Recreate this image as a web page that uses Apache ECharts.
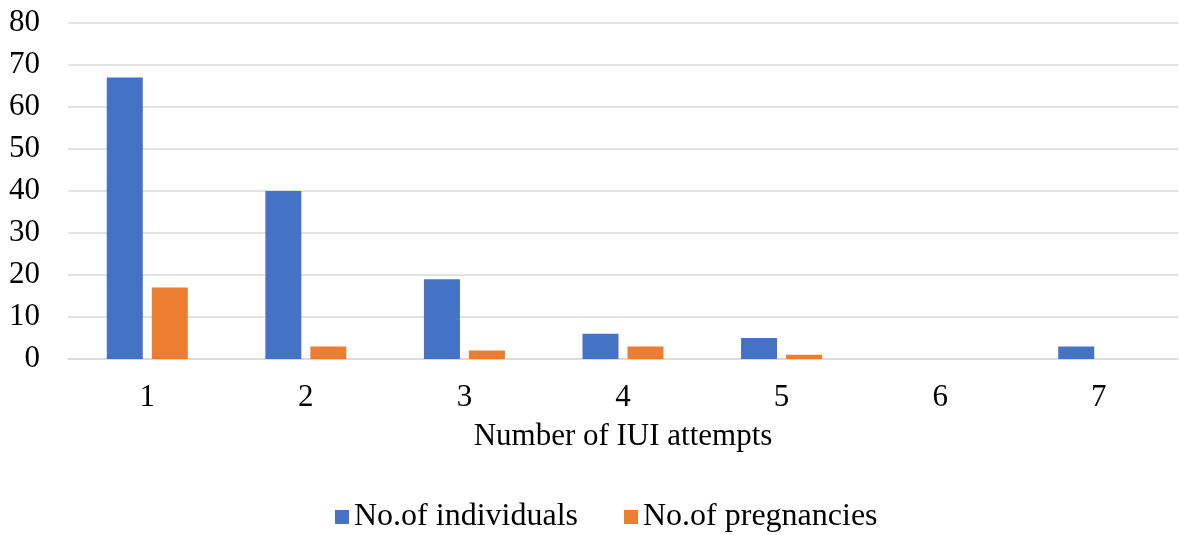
<!DOCTYPE html>
<html><head><meta charset="utf-8">
<script src="https://cdn.jsdelivr.net/npm/echarts@6/dist/echarts.min.js"></script>
<style>html,body{margin:0;padding:0;background:#fff}#c{width:1179px;height:535px}</style>
</head><body><div id="c"></div>
<script>
var categories = ['1','2','3','4','5','6','7'];
var individuals = [67, 40, 19, 6, 5, 0, 3];
var pregnancies = [17, 3, 2, 3, 1, 0, 0];
var font = '"Liberation Serif", "Times New Roman", serif';
var chart = echarts.init(document.getElementById('c'));
chart.setOption({
  animation: false,
  textStyle: {fontFamily: font},
  grid: {left: 68, right: 1, top: 23, bottom: 176, containLabel: false},
  legend: {
    bottom: 2, left: 335, padding: 0, itemWidth: 14, itemHeight: 14, itemGap: 46,
    icon: 'rect',
    textStyle: {fontFamily: font, fontSize: 32, color: '#000'},
    data: ['No.of individuals', 'No.of pregnancies']
  },
  xAxis: {
    type: 'category', data: categories,
    name: 'Number of IUI attempts', nameLocation: 'middle', nameGap: 62,
    nameTextStyle: {fontFamily: font, fontSize: 31, color: '#000'},
    axisLine: {lineStyle: {color: '#d9d9d9', width: 1.5}},
    axisTick: {show: false},
    axisLabel: {fontFamily: font, fontSize: 31, color: '#000', margin: 23}
  },
  yAxis: {
    type: 'value', min: 0, max: 80, interval: 10,
    axisLine: {show: false}, axisTick: {show: false},
    axisLabel: {fontFamily: font, fontSize: 31, color: '#000', margin: 28},
    splitLine: {lineStyle: {color: '#d9d9d9', width: 1.5}}
  },
  series: [
    {name: 'No.of individuals', type: 'bar', data: individuals, barWidth: 36, barGap: '25%', itemStyle: {color: '#4472c4'}},
    {name: 'No.of pregnancies', type: 'bar', data: pregnancies, barWidth: 36, barGap: '25%', itemStyle: {color: '#ed7d31'}}
  ]
});
</script></body></html>
